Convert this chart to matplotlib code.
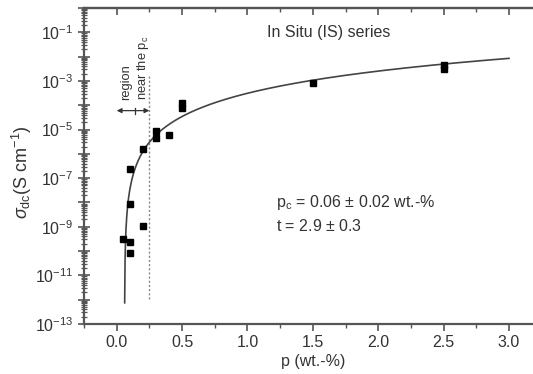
import numpy as np
import matplotlib
matplotlib.use("Agg")
import matplotlib.pyplot as plt
from matplotlib.ticker import FixedLocator, FuncFormatter, LogLocator, NullFormatter, MultipleLocator

plt.rcParams['font.family'] = ['Liberation Sans', 'DejaVu Sans']
plt.rcParams['mathtext.fontset'] = 'custom'
plt.rcParams['mathtext.rm'] = 'Liberation Sans'
plt.rcParams['mathtext.it'] = 'Liberation Sans:italic'

# data
p_data = [0.05, 0.10, 0.10, 0.10, 0.10, 0.20, 0.20, 0.30, 0.30, 0.40, 0.50, 0.50, 1.50, 2.50, 2.50]
sigma_data = [3.0e-10, 2.3e-10, 8.5e-11, 9e-9, 2.3e-7, 1.1e-9, 1.6e-6, 4.4e-6, 8.5e-6, 6e-6,
              1.2e-4, 7.5e-5, 8e-4, 4.5e-3, 3.2e-3]

# fit parameters
pc = 0.06
t_exp = 2.9
sigma0 = 10 ** -3.43
p_fit_start = 0.061
p_fit_end = 3.0

TXT = '#333333'
AX = '#555555'
FS = 11.5

fig = plt.figure(figsize=(5.33, 3.74), dpi=100)
ax = fig.add_axes([84 / 533, 1 - 324 / 374, 457.7 / 533, 316 / 374])

p_fit = np.linspace(p_fit_start, p_fit_end, 2000)
ax.plot(p_fit, sigma0 * (p_fit - pc) ** t_exp, color='#444444', lw=1.2, zorder=2)
ax.plot(p_data, sigma_data, 's', color='black', ms=5, zorder=3)

# region near pc
ax.plot([0.25, 0.25], [1.1e-12, 1.8e-3], color='#888888', lw=1, ls=(0, (1.5, 1.5)), zorder=1)
ax.annotate('', xy=(0.0, 6e-5), xytext=(0.25, 6e-5),
            arrowprops=dict(arrowstyle='<|-|>', color='#333333', lw=0.9, mutation_scale=7, shrinkA=0, shrinkB=0))
ax.plot([0.14, 0.14], [4.5e-5, 8e-5], color='#333333', lw=0.9)
ax.text(0.075, 1.6e-4, 'region', rotation=90, ha='center', va='bottom', fontsize=9.3, color=TXT)
ax.text(0.2, 1.6e-4, r'near the p$_\mathrm{c}$', rotation=90, ha='center', va='bottom', fontsize=9.3, color=TXT)

ax.text(1.15, 10 ** -1.0, 'In Situ (IS) series', fontsize=FS, color=TXT, ha='left', va='center')
ax.text(1.22, 10 ** -8.0, r'p$_\mathrm{c}$ = 0.06 $\pm$ 0.02 wt.-%', fontsize=FS, color=TXT, ha='left', va='center')
ax.text(1.22, 10 ** -8.95, r't = 2.9 $\pm$ 0.3', fontsize=FS, color=TXT, ha='left', va='center')

ax.set_yscale('log')
ax.set_xlim(-0.25, 3.25)
ax.set_ylim(1e-13, 1e0)

ax.xaxis.set_major_locator(MultipleLocator(0.5))
ax.xaxis.set_minor_locator(MultipleLocator(0.25))
ax.xaxis.set_major_formatter(FuncFormatter(lambda v, pos: f'{v:.1f}'))

ax.yaxis.set_major_locator(FixedLocator([10.0 ** e for e in range(-13, 1)]))
def yfmt(v, pos):
    e = int(round(np.log10(v)))
    return r'$10^{%d}$' % e if e % 2 != 0 else ''
ax.yaxis.set_major_formatter(FuncFormatter(yfmt))
ax.yaxis.set_minor_locator(LogLocator(base=10, subs=np.arange(2, 10), numticks=100))
ax.yaxis.set_minor_formatter(NullFormatter())

ax.tick_params(axis='x', which='both', direction='out', top=False, bottom=True, colors=AX,
               labelcolor=TXT, labelsize=FS, pad=3)
ax.tick_params(axis='x', which='major', length=5, width=1.2)
ax.tick_params(axis='x', which='minor', length=3, width=1)
ax.tick_params(axis='y', which='both', direction='inout', left=True, right=False, colors=AX,
               labelcolor=TXT, labelsize=FS)
ax.tick_params(axis='y', which='major', length=8, width=1.2)
ax.tick_params(axis='y', which='minor', length=4, width=0.9)

# top ticks pointing inward
top = ax.secondary_xaxis('top')
top.xaxis.set_major_locator(MultipleLocator(0.5))
top.xaxis.set_minor_locator(MultipleLocator(0.25))
top.tick_params(axis='x', which='both', direction='in', colors=AX, labeltop=False)
top.tick_params(axis='x', which='major', length=5, width=1.2)
top.tick_params(axis='x', which='minor', length=3, width=1)
top.spines['top'].set_color(AX)
top.spines['top'].set_linewidth(1.6)

for s in ax.spines.values():
    s.set_color(AX)
    s.set_linewidth(1.6)
ax.spines['right'].set_visible(False)

ax.set_xlabel('p (wt.-%)', fontsize=FS, color=TXT, labelpad=3)
ax.set_ylabel(r'$\sigma_{\mathrm{dc}}$(S cm$^{\mathrm{-1}}$)', fontsize=13, color=TXT)
ax.yaxis.set_label_coords(-0.11, 0.48)

fig.savefig('out.png', dpi=100)
